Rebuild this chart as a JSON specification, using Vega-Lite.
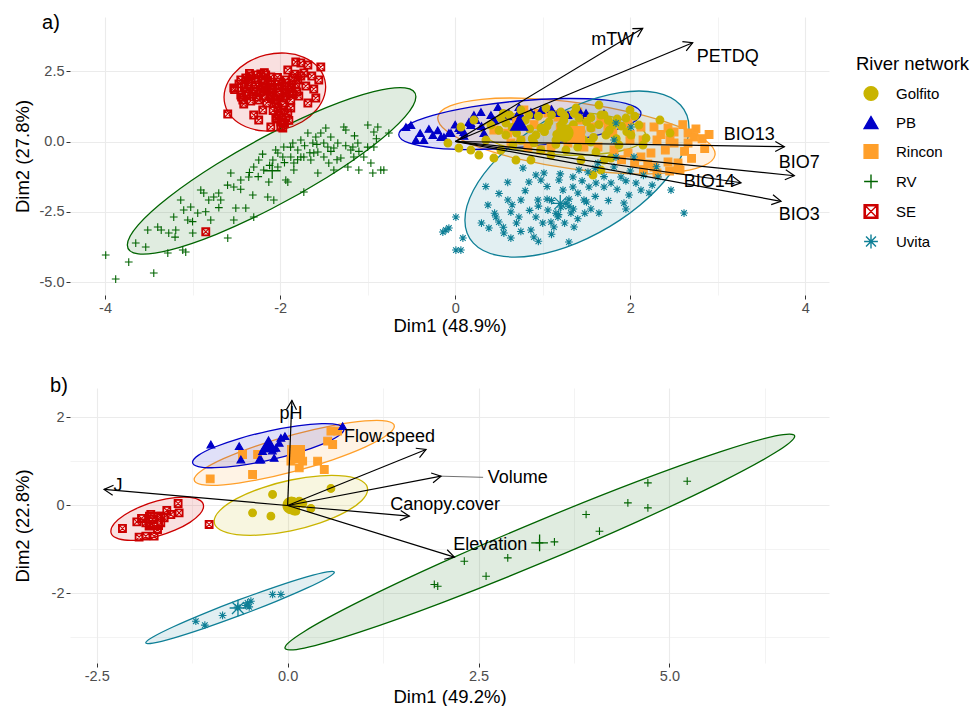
{
  "$schema": "https://vega.github.io/schema/vega-lite/v6.json",
  "background": "white",
  "padding": {"left": 13, "top": 13, "right": 5, "bottom": 5},
  "spacing": 41,
  "config": {
    "locale": {"number": {"decimal": ".", "thousands": ",", "grouping": [3], "currency": ["$", ""], "minus": "-"}},
    "view": {"stroke": null},
    "font": "Liberation Sans",
    "axis": {"domain": false, "grid": true, "gridColor": "#EBEBEB", "tickColor": "#333333", "tickSize": 4, "labelFont": "Liberation Sans", "labelFontSize": 14.5, "labelColor": "#4D4D4D", "labelPadding": 2, "titleFont": "Liberation Sans", "titleFontSize": 18.5, "titleFontWeight": "normal", "titleColor": "#000000"},
    "legend": {"titleFont": "Liberation Sans", "titleFontSize": 18.5, "titleFontWeight": "normal", "titleColor": "#000000", "labelFont": "Liberation Sans", "labelFontSize": 15, "labelColor": "#000000", "symbolSize": 190, "symbolStrokeWidth": 1.4, "symbolOpacity": 1, "rowPadding": 10, "titlePadding": 12, "symbolOffset": 7, "labelOffset": 17}
  },
  "datasets": {
    "ell_a": [
      {"g":"SE","k":0,"x":-1.489,"y":2.187},{"g":"SE","k":1,"x":-1.493,"y":1.649},{"g":"SE","k":2,"x":-1.584,"y":1.129},{"g":"SE","k":3,"x":-1.747,"y":0.704},{"g":"SE","k":4,"x":-1.958,"y":0.440},{"g":"SE","k":5,"x":-2.185,"y":0.376},{"g":"SE","k":6,"x":-2.392,"y":0.525},{"g":"SE","k":7,"x":-2.549,"y":0.859},{"g":"SE","k":8,"x":-2.631,"y":1.333},{"g":"SE","k":9,"x":-2.627,"y":1.871},{"g":"SE","k":10,"x":-2.536,"y":2.391},{"g":"SE","k":11,"x":-2.373,"y":2.816},{"g":"SE","k":12,"x":-2.162,"y":3.080},{"g":"SE","k":13,"x":-1.935,"y":3.144},{"g":"SE","k":14,"x":-1.728,"y":2.995},{"g":"SE","k":15,"x":-1.571,"y":2.661},
      {"g":"RV","k":0,"x":-0.449,"y":1.594},{"g":"RV","k":1,"x":-0.574,"y":1.911},{"g":"RV","k":2,"x":-0.932,"y":1.775},{"g":"RV","k":3,"x":-1.466,"y":1.214},{"g":"RV","k":4,"x":-2.097,"y":0.307},{"g":"RV","k":5,"x":-2.728,"y":-0.806},{"g":"RV","k":6,"x":-3.262,"y":-1.953},{"g":"RV","k":7,"x":-3.620,"y":-2.963},{"g":"RV","k":8,"x":-3.745,"y":-3.680},{"g":"RV","k":9,"x":-3.620,"y":-3.997},{"g":"RV","k":10,"x":-3.262,"y":-3.861},{"g":"RV","k":11,"x":-2.728,"y":-3.300},{"g":"RV","k":12,"x":-2.097,"y":-2.393},{"g":"RV","k":13,"x":-1.466,"y":-1.280},{"g":"RV","k":14,"x":-0.932,"y":-0.133},{"g":"RV","k":15,"x":-0.574,"y":0.877},
      {"g":"Rincon","k":0,"x":2.968,"y":-0.480},{"g":"Rincon","k":1,"x":2.828,"y":-0.877},{"g":"Rincon","k":2,"x":2.468,"y":-1.110},{"g":"Rincon","k":3,"x":1.944,"y":-1.145},{"g":"Rincon","k":4,"x":1.334,"y":-0.975},{"g":"Rincon","k":5,"x":0.732,"y":-0.627},{"g":"Rincon","k":6,"x":0.230,"y":-0.154},{"g":"Rincon","k":7,"x":-0.098,"y":0.373},{"g":"Rincon","k":8,"x":-0.198,"y":0.872},{"g":"Rincon","k":9,"x":-0.058,"y":1.269},{"g":"Rincon","k":10,"x":0.302,"y":1.502},{"g":"Rincon","k":11,"x":0.826,"y":1.537},{"g":"Rincon","k":12,"x":1.436,"y":1.367},{"g":"Rincon","k":13,"x":2.038,"y":1.019},{"g":"Rincon","k":14,"x":2.540,"y":0.546},{"g":"Rincon","k":15,"x":2.868,"y":0.019},
      {"g":"PB","k":0,"x":2.122,"y":1.014},{"g":"PB","k":1,"x":2.026,"y":0.670},{"g":"PB","k":2,"x":1.734,"y":0.320},{"g":"PB","k":3,"x":1.291,"y":0.016},{"g":"PB","k":4,"x":0.763,"y":-0.196},{"g":"PB","k":5,"x":0.231,"y":-0.284},{"g":"PB","k":6,"x":-0.222,"y":-0.232},{"g":"PB","k":7,"x":-0.530,"y":-0.052},{"g":"PB","k":8,"x":-0.644,"y":0.232},{"g":"PB","k":9,"x":-0.548,"y":0.576},{"g":"PB","k":10,"x":-0.256,"y":0.926},{"g":"PB","k":11,"x":0.187,"y":1.230},{"g":"PB","k":12,"x":0.715,"y":1.442},{"g":"PB","k":13,"x":1.247,"y":1.530},{"g":"PB","k":14,"x":1.700,"y":1.478},{"g":"PB","k":15,"x":2.008,"y":1.298},
      {"g":"Golfito","k":0,"x":2.179,"y":0.195},{"g":"Golfito","k":1,"x":2.105,"y":-0.097},{"g":"Golfito","k":2,"x":1.898,"y":-0.328},{"g":"Golfito","k":3,"x":1.593,"y":-0.462},{"g":"Golfito","k":4,"x":1.233,"y":-0.481},{"g":"Golfito","k":5,"x":0.875,"y":-0.380},{"g":"Golfito","k":6,"x":0.574,"y":-0.176},{"g":"Golfito","k":7,"x":0.373,"y":0.101},{"g":"Golfito","k":8,"x":0.305,"y":0.409},{"g":"Golfito","k":9,"x":0.379,"y":0.701},{"g":"Golfito","k":10,"x":0.586,"y":0.932},{"g":"Golfito","k":11,"x":0.891,"y":1.066},{"g":"Golfito","k":12,"x":1.251,"y":1.085},{"g":"Golfito","k":13,"x":1.609,"y":0.984},{"g":"Golfito","k":14,"x":1.910,"y":0.780},{"g":"Golfito","k":15,"x":2.111,"y":0.503},
      {"g":"Uvita","k":0,"x":2.671,"y":0.484},{"g":"Uvita","k":1,"x":2.574,"y":1.300},{"g":"Uvita","k":2,"x":2.296,"y":1.739},{"g":"Uvita","k":3,"x":1.881,"y":1.741},{"g":"Uvita","k":4,"x":1.391,"y":1.299},{"g":"Uvita","k":5,"x":0.901,"y":0.483},{"g":"Uvita","k":6,"x":0.486,"y":-0.581},{"g":"Uvita","k":7,"x":0.208,"y":-1.732},{"g":"Uvita","k":8,"x":0.111,"y":-2.798},{"g":"Uvita","k":9,"x":0.208,"y":-3.614},{"g":"Uvita","k":10,"x":0.486,"y":-4.053},{"g":"Uvita","k":11,"x":0.901,"y":-4.055},{"g":"Uvita","k":12,"x":1.391,"y":-3.613},{"g":"Uvita","k":13,"x":1.881,"y":-2.797},{"g":"Uvita","k":14,"x":2.296,"y":-1.733},{"g":"Uvita","k":15,"x":2.574,"y":-0.582}
    ],
    "ell_b": [
      {"g":"Rincon","k":0,"x":1.398,"y":1.802},{"g":"Rincon","k":1,"x":1.298,"y":1.917},{"g":"Rincon","k":2,"x":1.014,"y":1.921},{"g":"Rincon","k":3,"x":0.589,"y":1.815},{"g":"Rincon","k":4,"x":0.087,"y":1.615},{"g":"Rincon","k":5,"x":-0.415,"y":1.351},{"g":"Rincon","k":6,"x":-0.840,"y":1.063},{"g":"Rincon","k":7,"x":-1.124,"y":0.795},{"g":"Rincon","k":8,"x":-1.224,"y":0.588},{"g":"Rincon","k":9,"x":-1.124,"y":0.473},{"g":"Rincon","k":10,"x":-0.840,"y":0.469},{"g":"Rincon","k":11,"x":-0.415,"y":0.575},{"g":"Rincon","k":12,"x":0.087,"y":0.775},{"g":"Rincon","k":13,"x":0.589,"y":1.039},{"g":"Rincon","k":14,"x":1.014,"y":1.327},{"g":"Rincon","k":15,"x":1.298,"y":1.595},
      {"g":"PB","k":0,"x":0.739,"y":1.734},{"g":"PB","k":1,"x":0.664,"y":1.833},{"g":"PB","k":2,"x":0.448,"y":1.859},{"g":"PB","k":3,"x":0.127,"y":1.810},{"g":"PB","k":4,"x":-0.253,"y":1.691},{"g":"PB","k":5,"x":-0.633,"y":1.522},{"g":"PB","k":6,"x":-0.954,"y":1.329},{"g":"PB","k":7,"x":-1.170,"y":1.139},{"g":"PB","k":8,"x":-1.245,"y":0.984},{"g":"PB","k":9,"x":-1.170,"y":0.885},{"g":"PB","k":10,"x":-0.954,"y":0.859},{"g":"PB","k":11,"x":-0.633,"y":0.908},{"g":"PB","k":12,"x":-0.253,"y":1.027},{"g":"PB","k":13,"x":0.127,"y":1.196},{"g":"PB","k":14,"x":0.448,"y":1.389},{"g":"PB","k":15,"x":0.664,"y":1.579},
      {"g":"Golfito","k":0,"x":1.048,"y":0.363},{"g":"Golfito","k":1,"x":0.972,"y":0.557},{"g":"Golfito","k":2,"x":0.754,"y":0.665},{"g":"Golfito","k":3,"x":0.428,"y":0.673},{"g":"Golfito","k":4,"x":0.043,"y":0.579},{"g":"Golfito","k":5,"x":-0.342,"y":0.397},{"g":"Golfito","k":6,"x":-0.668,"y":0.155},{"g":"Golfito","k":7,"x":-0.886,"y":-0.111},{"g":"Golfito","k":8,"x":-0.962,"y":-0.359},{"g":"Golfito","k":9,"x":-0.886,"y":-0.553},{"g":"Golfito","k":10,"x":-0.668,"y":-0.661},{"g":"Golfito","k":11,"x":-0.342,"y":-0.669},{"g":"Golfito","k":12,"x":0.043,"y":-0.575},{"g":"Golfito","k":13,"x":0.428,"y":-0.393},{"g":"Golfito","k":14,"x":0.754,"y":-0.151},{"g":"Golfito","k":15,"x":0.972,"y":0.115},
      {"g":"SE","k":0,"x":-1.101,"y":-0.016},{"g":"SE","k":1,"x":-1.147,"y":0.116},{"g":"SE","k":2,"x":-1.279,"y":0.185},{"g":"SE","k":3,"x":-1.476,"y":0.180},{"g":"SE","k":4,"x":-1.708,"y":0.102},{"g":"SE","k":5,"x":-1.940,"y":-0.038},{"g":"SE","k":6,"x":-2.137,"y":-0.217},{"g":"SE","k":7,"x":-2.269,"y":-0.408},{"g":"SE","k":8,"x":-2.315,"y":-0.584},{"g":"SE","k":9,"x":-2.269,"y":-0.716},{"g":"SE","k":10,"x":-2.137,"y":-0.785},{"g":"SE","k":11,"x":-1.940,"y":-0.780},{"g":"SE","k":12,"x":-1.708,"y":-0.702},{"g":"SE","k":13,"x":-1.476,"y":-0.562},{"g":"SE","k":14,"x":-1.279,"y":-0.383},{"g":"SE","k":15,"x":-1.147,"y":-0.192},
      {"g":"Uvita","k":0,"x":0.612,"y":-1.516},{"g":"Uvita","k":1,"x":0.518,"y":-1.507},{"g":"Uvita","k":2,"x":0.250,"y":-1.622},{"g":"Uvita","k":3,"x":-0.150,"y":-1.843},{"g":"Uvita","k":4,"x":-0.623,"y":-2.136},{"g":"Uvita","k":5,"x":-1.096,"y":-2.457},{"g":"Uvita","k":6,"x":-1.496,"y":-2.756},{"g":"Uvita","k":7,"x":-1.764,"y":-2.989},{"g":"Uvita","k":8,"x":-1.858,"y":-3.120},{"g":"Uvita","k":9,"x":-1.764,"y":-3.129},{"g":"Uvita","k":10,"x":-1.496,"y":-3.014},{"g":"Uvita","k":11,"x":-1.096,"y":-2.793},{"g":"Uvita","k":12,"x":-0.623,"y":-2.500},{"g":"Uvita","k":13,"x":-0.150,"y":-2.179},{"g":"Uvita","k":14,"x":0.250,"y":-1.880},{"g":"Uvita","k":15,"x":0.518,"y":-1.647},
      {"g":"RV","k":0,"x":6.641,"y":1.575},{"g":"RV","k":1,"x":6.387,"y":1.581},{"g":"RV","k":2,"x":5.663,"y":1.219},{"g":"RV","k":3,"x":4.581,"y":0.547},{"g":"RV","k":4,"x":3.303,"y":-0.337},{"g":"RV","k":5,"x":2.025,"y":-1.295},{"g":"RV","k":6,"x":0.943,"y":-2.181},{"g":"RV","k":7,"x":0.219,"y":-2.863},{"g":"RV","k":8,"x":-0.035,"y":-3.235},{"g":"RV","k":9,"x":0.219,"y":-3.241},{"g":"RV","k":10,"x":0.943,"y":-2.879},{"g":"RV","k":11,"x":2.025,"y":-2.207},{"g":"RV","k":12,"x":3.303,"y":-1.323},{"g":"RV","k":13,"x":4.581,"y":-0.365},{"g":"RV","k":14,"x":5.663,"y":0.521},{"g":"RV","k":15,"x":6.387,"y":1.203}
    ],
    "pts_a": [
      {"g":"SE","x":-2.598,"y":0.979},{"g":"SE","x":-2.529,"y":1.904},{"g":"SE","x":-2.415,"y":1.335},{"g":"SE","x":-2.301,"y":0.943},{"g":"SE","x":-2.244,"y":0.765},{"g":"SE","x":-2.106,"y":0.516},{"g":"SE","x":-1.992,"y":0.516},{"g":"SE","x":-1.821,"y":2.829},{"g":"SE","x":-1.763,"y":2.794},{"g":"SE","x":-1.683,"y":2.722},{"g":"SE","x":-1.535,"y":2.651},{"g":"SE","x":-1.615,"y":1.868},{"g":"SE","x":-1.592,"y":1.548},{"g":"SE","x":-1.683,"y":1.370},{"g":"SE","x":-1.729,"y":2.438},{"g":"SE","x":-1.912,"y":2.544},{"g":"SE","x":-1.969,"y":0.480},{"g":"SE","x":-2.049,"y":0.836},{"g":"SE","x":-2.198,"y":1.121},{"g":"SE","x":-2.449,"y":1.655},{"g":"SE","x":-1.558,"y":2.189},{"g":"SE","x":-1.638,"y":2.331},{"g":"SE","x":-1.706,"y":1.975},{"g":"SE","x":-1.798,"y":2.189},
      {"g":"SE","x":-2.449,"y":2.189},{"g":"SE","x":-2.392,"y":2.260},{"g":"SE","x":-2.335,"y":2.331},{"g":"SE","x":-2.278,"y":2.367},{"g":"SE","x":-2.221,"y":2.402},{"g":"SE","x":-2.164,"y":2.367},{"g":"SE","x":-2.106,"y":2.295},{"g":"SE","x":-2.358,"y":2.046},{"g":"SE","x":-2.278,"y":2.011},{"g":"SE","x":-2.198,"y":2.082},{"g":"SE","x":-2.106,"y":2.011},{"g":"SE","x":-2.015,"y":2.117},{"g":"SE","x":-1.935,"y":2.189},{"g":"SE","x":-1.855,"y":2.260},{"g":"SE","x":-2.392,"y":1.762},{"g":"SE","x":-2.312,"y":1.690},{"g":"SE","x":-2.221,"y":1.762},{"g":"SE","x":-2.118,"y":1.655},{"g":"SE","x":-2.026,"y":1.762},{"g":"SE","x":-1.946,"y":1.833},{"g":"SE","x":-1.878,"y":1.904},{"g":"SE","x":-1.809,"y":1.762},{"g":"SE","x":-2.426,"y":1.477},{"g":"SE","x":-2.335,"y":1.441},{"g":"SE","x":-2.244,"y":1.477},{"g":"SE","x":-2.152,"y":1.370},{"g":"SE","x":-2.060,"y":1.477},{"g":"SE","x":-1.969,"y":1.548},{"g":"SE","x":-1.878,"y":1.477},{"g":"SE","x":-1.786,"y":1.619},{"g":"SE","x":-2.026,"y":1.192},{"g":"SE","x":-1.958,"y":1.121},{"g":"SE","x":-1.878,"y":1.192},{"g":"SE","x":-2.015,"y":0.907},{"g":"SE","x":-1.935,"y":0.836},{"g":"SE","x":-1.992,"y":0.694},{"g":"SE","x":-1.912,"y":1.014},{"g":"SE","x":-2.083,"y":1.833},{"g":"SE","x":-2.175,"y":1.904},{"g":"SE","x":-1.763,"y":2.331},{"g":"SE","x":-2.849,"y":-3.210},
      {"g":"SE","x":-2.47,"y":2.05},{"g":"SE","x":-2.41,"y":1.95},{"g":"SE","x":-2.36,"y":2.12},{"g":"SE","x":-2.30,"y":1.86},{"g":"SE","x":-2.25,"y":2.20},{"g":"SE","x":-2.20,"y":1.95},{"g":"SE","x":-2.14,"y":2.15},{"g":"SE","x":-2.09,"y":1.88},{"g":"SE","x":-2.03,"y":2.28},{"g":"SE","x":-1.98,"y":1.98},{"g":"SE","x":-1.92,"y":2.08},{"g":"SE","x":-1.87,"y":1.93},{"g":"SE","x":-1.82,"y":2.05},{"g":"SE","x":-2.44,"y":1.58},{"g":"SE","x":-2.38,"y":1.63},{"g":"SE","x":-2.27,"y":1.58},{"g":"SE","x":-2.19,"y":1.62},{"g":"SE","x":-2.10,"y":1.52},{"g":"SE","x":-2.00,"y":1.66},{"g":"SE","x":-1.93,"y":1.62},{"g":"SE","x":-1.85,"y":1.69},{"g":"SE","x":-2.05,"y":1.35},{"g":"SE","x":-1.97,"y":1.30},{"g":"SE","x":-2.08,"y":1.10},{"g":"SE","x":-1.99,"y":1.02},{"g":"SE","x":-2.04,"y":0.80},{"g":"SE","x":-1.95,"y":0.65},{"g":"SE","x":-1.90,"y":0.75},{"g":"SE","x":-2.35,"y":2.42},{"g":"SE","x":-2.18,"y":2.45},{"g":"SE","x":-2.28,"y":1.78},{"g":"SE","x":-2.15,"y":1.80},{"g":"SE","x":-1.90,"y":1.75},{"g":"SE","x":-2.52,"y":1.85},{"g":"SE","x":-1.83,"y":2.40},
      {"g":"RV","x":-3.992,"y":-4.039},{"g":"RV","x":-3.878,"y":-4.893},{"g":"RV","x":-3.729,"y":-4.288},{"g":"RV","x":-3.649,"y":-3.612},{"g":"RV","x":-3.535,"y":-3.754},{"g":"RV","x":-3.443,"y":-4.680},{"g":"RV","x":-3.512,"y":-3.149},{"g":"RV","x":-3.398,"y":-3.043},{"g":"RV","x":-3.272,"y":-3.256},{"g":"RV","x":-3.283,"y":-3.968},{"g":"RV","x":-3.192,"y":-3.149},{"g":"RV","x":-3.135,"y":-2.082},{"g":"RV","x":-3.101,"y":-2.438},{"g":"RV","x":-3.055,"y":-2.794},{"g":"RV","x":-2.998,"y":-3.256},{"g":"RV","x":-3.112,"y":-3.861},{"g":"RV","x":-3.078,"y":-3.932},{"g":"RV","x":-2.941,"y":-2.544},{"g":"RV","x":-2.906,"y":-1.726},{"g":"RV","x":-2.872,"y":-1.833},{"g":"RV","x":-2.792,"y":-2.794},{"g":"RV","x":-2.758,"y":-1.975},{"g":"RV","x":-2.701,"y":-1.833},{"g":"RV","x":-2.598,"y":-3.434},{"g":"RV","x":-2.563,"y":-1.121},{"g":"RV","x":-2.529,"y":-1.619},{"g":"RV","x":-2.529,"y":-2.794},{"g":"RV","x":-2.506,"y":-2.367},{"g":"RV","x":-2.392,"y":-2.367},{"g":"RV","x":-2.358,"y":-1.263},{"g":"RV","x":-2.312,"y":-1.904},{"g":"RV","x":-2.301,"y":-2.687},{"g":"RV","x":-2.244,"y":-0.658},{"g":"RV","x":-2.187,"y":-1.014},{"g":"RV","x":-2.141,"y":-1.975},{"g":"RV","x":-2.129,"y":-1.441},{"g":"RV","x":-2.072,"y":-2.082},{"g":"RV","x":-2.083,"y":-0.658},{"g":"RV","x":-2.026,"y":-0.409},{"g":"RV","x":-1.969,"y":-0.552},{"g":"RV","x":-1.958,"y":-0.196},{"g":"RV","x":-1.912,"y":-1.441},{"g":"RV","x":-1.855,"y":-0.053},{"g":"RV","x":-1.843,"y":-0.765},{"g":"RV","x":-1.798,"y":-0.302},{"g":"RV","x":-1.763,"y":0.053},{"g":"RV","x":-1.729,"y":-0.552},{"g":"RV","x":-1.683,"y":0.302},{"g":"RV","x":-1.649,"y":-0.658},{"g":"RV","x":-1.626,"y":-0.053},{"g":"RV","x":-1.592,"y":0.160},{"g":"RV","x":-1.569,"y":-0.374},{"g":"RV","x":-1.535,"y":0.302},{"g":"RV","x":-1.501,"y":-0.053},{"g":"RV","x":-1.478,"y":0.480},{"g":"RV","x":-1.444,"y":-0.765},{"g":"RV","x":-1.421,"y":0.160},{"g":"RV","x":-1.386,"y":-0.231},{"g":"RV","x":-1.341,"y":-0.053},{"g":"RV","x":-1.306,"y":-0.587},{"g":"RV","x":-1.272,"y":0.516},{"g":"RV","x":-1.226,"y":-0.907},{"g":"RV","x":-1.169,"y":-0.196},{"g":"RV","x":-1.158,"y":-0.552},{"g":"RV","x":-1.112,"y":-0.053},{"g":"RV","x":-1.101,"y":-1.014},{"g":"RV","x":-1.044,"y":-0.552},{"g":"RV","x":-0.998,"y":0.587},{"g":"RV","x":-0.963,"y":-0.765},{"g":"RV","x":-0.941,"y":-1.121},{"g":"RV","x":-0.929,"y":-0.196},{"g":"RV","x":-0.884,"y":0.516},{"g":"RV","x":-0.850,"y":-1.014},{"g":"RV","x":-0.815,"y":-1.014},{"g":"RV","x":-0.758,"y":0.302},{"g":"RV","x":-1.729,"y":-1.797},{"g":"RV","x":-1.935,"y":-1.370},{"g":"RV","x":-1.843,"y":-1.014},{"g":"RV","x":-1.569,"y":-1.121},{"g":"RV","x":-1.386,"y":-1.014},{"g":"RV","x":-1.192,"y":-0.302},{"g":"RV","x":-1.763,"y":-0.552},{"g":"RV","x":-2.026,"y":-0.907},{"g":"RV","x":-2.301,"y":-0.907},{"g":"RV","x":-2.449,"y":-1.370},{"g":"RV","x":-2.678,"y":-2.082},{"g":"RV","x":-2.815,"y":-2.082},{"g":"RV","x":-3.021,"y":-2.331},{"g":"RV","x":-3.215,"y":-2.687},{"g":"RV","x":-3.358,"y":-3.149},{"g":"RV","x":-1.249,"y":0.409},{"g":"RV","x":-0.929,"y":0.338},{"g":"RV","x":-1.878,"y":-0.552},{"g":"RV","x":-1.615,"y":-0.409},{"g":"RV","x":-1.455,"y":-0.196},
      {"g":"RV","x":-2.05,"y":-0.30},{"g":"RV","x":-1.95,"y":-0.75},{"g":"RV","x":-1.88,"y":-0.20},{"g":"RV","x":-1.80,"y":-0.65},{"g":"RV","x":-1.72,"y":-0.15},{"g":"RV","x":-1.66,"y":-0.40},{"g":"RV","x":-1.58,"y":-0.10},{"g":"RV","x":-1.50,"y":-0.55},{"g":"RV","x":-1.42,"y":-0.35},{"g":"RV","x":-1.35,"y":-0.65},{"g":"RV","x":-2.20,"y":-0.45},{"g":"RV","x":-2.12,"y":-0.85},{"g":"RV","x":-2.35,"y":-1.10},{"g":"RV","x":-2.25,"y":-1.25},{"g":"RV","x":-2.60,"y":-1.55},{"g":"RV","x":-2.45,"y":-1.70},{"g":"RV","x":-2.70,"y":-2.35},{"g":"RV","x":-2.85,"y":-2.50},{"g":"RV","x":-3.00,"y":-2.85},{"g":"RV","x":-3.20,"y":-3.40},{"g":"RV","x":-1.25,"y":-0.15},{"g":"RV","x":-1.10,"y":-0.35},{"g":"RV","x":-1.00,"y":-0.20},{"g":"RV","x":-0.90,"y":0.10},{"g":"RV","x":-1.15,"y":0.20},
      {"g":"Rincon","x":0.442,"y":0.409},{"g":"Rincon","x":0.785,"y":1.121},{"g":"Rincon","x":1.059,"y":1.121},{"g":"Rincon","x":1.174,"y":0.872},{"g":"Rincon","x":1.437,"y":0.765},{"g":"Rincon","x":1.665,"y":0.765},{"g":"Rincon","x":1.974,"y":0.658},{"g":"Rincon","x":2.122,"y":0.516},{"g":"Rincon","x":2.271,"y":0.516},{"g":"Rincon","x":2.431,"y":0.480},{"g":"Rincon","x":2.500,"y":0.338},{"g":"Rincon","x":2.660,"y":0.302},{"g":"Rincon","x":2.728,"y":0.160},{"g":"Rincon","x":2.236,"y":-0.409},{"g":"Rincon","x":2.431,"y":-0.730},{"g":"Rincon","x":2.545,"y":-0.765},{"g":"Rincon","x":2.271,"y":-0.907},{"g":"Rincon","x":2.122,"y":-0.552},{"g":"Rincon","x":1.974,"y":-0.409},{"g":"Rincon","x":1.814,"y":-0.302},{"g":"Rincon","x":1.631,"y":-0.196},{"g":"Rincon","x":1.471,"y":-0.196},{"g":"Rincon","x":1.288,"y":-0.053},{"g":"Rincon","x":1.094,"y":-0.196},{"g":"Rincon","x":0.979,"y":-0.302},{"g":"Rincon","x":0.831,"y":-0.196},{"g":"Rincon","x":0.637,"y":-0.053},{"g":"Rincon","x":1.745,"y":0.516},{"g":"Rincon","x":1.551,"y":0.516},{"g":"Rincon","x":1.357,"y":0.302},{"g":"Rincon","x":1.997,"y":0.053},{"g":"Rincon","x":2.146,"y":0.053},{"g":"Rincon","x":2.305,"y":0.053},{"g":"Rincon","x":2.454,"y":0.053},{"g":"Rincon","x":2.500,"y":-0.053},{"g":"Rincon","x":2.660,"y":-0.053},{"g":"Rincon","x":2.305,"y":-1.121},{"g":"Rincon","x":2.568,"y":-1.014},{"g":"Rincon","x":1.059,"y":1.014},{"g":"Rincon","x":0.700,"y":0.760},{"g":"Rincon","x":0.900,"y":0.600},{"g":"Rincon","x":1.200,"y":0.500},{"g":"Rincon","x":1.800,"y":0.300},{"g":"Rincon","x":2.000,"y":0.250},{"g":"Rincon","x":2.900,"y":0.250},
      {"g":"Rincon","x":2.75,"y":0.45},{"g":"Rincon","x":2.82,"y":0.10},{"g":"Rincon","x":2.62,"y":-0.35},{"g":"Rincon","x":2.40,"y":-0.30},{"g":"Rincon","x":2.20,"y":-0.80},{"g":"Rincon","x":2.05,"y":-0.75},{"g":"Rincon","x":1.90,"y":-0.65},{"g":"Rincon","x":2.70,"y":-0.60},{"g":"Rincon","x":2.55,"y":-0.95},{"g":"Rincon","x":2.35,"y":0.25},{"g":"Rincon","x":2.85,"y":-0.25},{"g":"Rincon","x":1.20,"y":0.95},{"g":"Rincon","x":1.40,"y":1.05},{"g":"Rincon","x":0.95,"y":1.00},{"g":"Rincon","x":2.45,"y":-1.05},{"g":"Rincon","x":2.15,"y":-1.00},{"g":"Rincon","x":2.60,"y":0.60},{"g":"Rincon","x":0.60,"y":0.30},{"g":"Rincon","x":0.75,"y":0.05},
      {"g":"PB","x":-0.563,"y":0.516},{"g":"PB","x":-0.506,"y":0.587},{"g":"PB","x":-0.358,"y":0.053},{"g":"PB","x":-0.255,"y":0.231},{"g":"PB","x":-0.163,"y":0.160},{"g":"PB","x":-0.072,"y":0.302},{"g":"PB","x":0.042,"y":0.480},{"g":"PB","x":0.099,"y":0.338},{"g":"PB","x":0.179,"y":0.587},{"g":"PB","x":0.237,"y":0.765},{"g":"PB","x":-0.449,"y":0.053},{"g":"PB","x":-0.129,"y":0.160},{"g":"PB","x":-0.049,"y":0.302},{"g":"PB","x":0.065,"y":0.409},{"g":"PB","x":0.157,"y":0.694},{"g":"PB","x":0.214,"y":0.943},{"g":"PB","x":0.488,"y":1.228},{"g":"PB","x":0.728,"y":1.228},{"g":"PB","x":0.751,"y":0.943},{"g":"PB","x":0.979,"y":1.121},{"g":"PB","x":1.174,"y":1.014},{"g":"PB","x":1.288,"y":0.943},{"g":"PB","x":1.414,"y":1.121},{"g":"PB","x":1.494,"y":1.014},{"g":"PB","x":0.294,"y":1.050},{"g":"PB","x":0.408,"y":0.943},{"g":"PB","x":0.614,"y":1.014},{"g":"PB","x":0.865,"y":1.050},{"g":"PB","x":0.179,"y":0.658},{"g":"PB","x":0.328,"y":0.302},{"g":"PB","x":0.728,"y":1.050},{"g":"PB","x":1.437,"y":0.872},
      {"g":"PB","x":-0.40,"y":0.30},{"g":"PB","x":-0.30,"y":0.45},{"g":"PB","x":-0.20,"y":0.40},{"g":"PB","x":0.00,"y":0.60},{"g":"PB","x":0.10,"y":0.20},{"g":"PB","x":0.30,"y":0.55},{"g":"PB","x":0.45,"y":0.75},{"g":"PB","x":0.60,"y":0.90},{"g":"PB","x":0.90,"y":0.95},{"g":"PB","x":1.10,"y":1.15},{"g":"PB","x":1.70,"y":1.00},
      {"g":"Golfito","x":0.408,"y":0.587},{"g":"Golfito","x":0.522,"y":0.836},{"g":"Golfito","x":0.579,"y":0.231},{"g":"Golfito","x":0.659,"y":-0.125},{"g":"Golfito","x":0.751,"y":0.587},{"g":"Golfito","x":0.842,"y":0.943},{"g":"Golfito","x":0.922,"y":0.231},{"g":"Golfito","x":0.979,"y":-0.302},{"g":"Golfito","x":1.071,"y":0.694},{"g":"Golfito","x":1.151,"y":0.053},{"g":"Golfito","x":1.208,"y":1.050},{"g":"Golfito","x":1.265,"y":-0.302},{"g":"Golfito","x":1.322,"y":0.480},{"g":"Golfito","x":1.414,"y":0.836},{"g":"Golfito","x":1.471,"y":0.053},{"g":"Golfito","x":1.551,"y":0.480},{"g":"Golfito","x":1.608,"y":-0.374},{"g":"Golfito","x":1.665,"y":0.943},{"g":"Golfito","x":1.722,"y":0.231},{"g":"Golfito","x":1.802,"y":0.587},{"g":"Golfito","x":1.871,"y":-0.125},{"g":"Golfito","x":1.951,"y":0.836},{"g":"Golfito","x":2.008,"y":0.231},{"g":"Golfito","x":2.099,"y":0.587},{"g":"Golfito","x":2.145,"y":-0.125},{"g":"Golfito","x":0.522,"y":-0.302},{"g":"Golfito","x":0.694,"y":-0.658},{"g":"Golfito","x":0.865,"y":-0.658},{"g":"Golfito","x":1.094,"y":-0.480},{"g":"Golfito","x":1.437,"y":-0.658},{"g":"Golfito","x":1.780,"y":-0.587},{"g":"Golfito","x":0.065,"y":0.516},{"g":"Golfito","x":0.214,"y":0.765},{"g":"Golfito","x":-0.083,"y":-0.053},{"g":"Golfito","x":0.042,"y":-0.231},{"g":"Golfito","x":0.179,"y":-0.302},{"g":"Golfito","x":0.271,"y":-0.480},{"g":"Golfito","x":0.442,"y":-0.587},{"g":"Golfito","x":0.751,"y":1.121},{"g":"Golfito","x":1.037,"y":1.192},{"g":"Golfito","x":1.380,"y":1.192},{"g":"Golfito","x":1.642,"y":1.299},{"g":"Golfito","x":1.997,"y":1.121},{"g":"Golfito","x":2.339,"y":0.765},{"g":"Golfito","x":2.454,"y":0.302},{"g":"Golfito","x":0.351,"y":0.053},{"g":"Golfito","x":0.579,"y":0.658},{"g":"Golfito","x":1.208,"y":0.587},{"g":"Golfito","x":1.551,"y":-0.018},{"g":"Golfito","x":0.751,"y":0.053},{"g":"Golfito","x":0.979,"y":0.480},{"g":"Golfito","x":1.700,"y":-0.658},{"g":"Golfito","x":1.665,"y":-1.014},{"g":"Golfito","x":2.180,"y":0.125},{"g":"Golfito","x":1.574,"y":-1.192},
      {"g":"Golfito","x":0.50,"y":0.40},{"g":"Golfito","x":0.62,"y":0.95},{"g":"Golfito","x":0.70,"y":0.30},{"g":"Golfito","x":0.80,"y":0.75},{"g":"Golfito","x":0.88,"y":0.10},{"g":"Golfito","x":0.95,"y":0.90},{"g":"Golfito","x":1.02,"y":0.35},{"g":"Golfito","x":1.10,"y":0.95},{"g":"Golfito","x":1.16,"y":0.25},{"g":"Golfito","x":1.24,"y":0.75},{"g":"Golfito","x":1.30,"y":0.05},{"g":"Golfito","x":1.36,"y":1.00},{"g":"Golfito","x":1.44,"y":0.35},{"g":"Golfito","x":1.50,"y":0.70},{"g":"Golfito","x":1.58,"y":0.15},{"g":"Golfito","x":1.64,"y":0.60},{"g":"Golfito","x":1.70,"y":0.95},{"g":"Golfito","x":1.76,"y":0.40},{"g":"Golfito","x":1.84,"y":0.10},{"g":"Golfito","x":1.90,"y":0.55},{"g":"Golfito","x":1.96,"y":0.35},{"g":"Golfito","x":1.05,"y":0.55},{"g":"Golfito","x":0.85,"y":0.45},{"g":"Golfito","x":1.35,"y":0.60},{"g":"Golfito","x":1.55,"y":0.85},{"g":"Golfito","x":0.65,"y":0.50},{"g":"Golfito","x":1.15,"y":-0.10},{"g":"Golfito","x":1.40,"y":-0.20},{"g":"Golfito","x":0.90,"y":-0.05},{"g":"Golfito","x":1.75,"y":0.75},{"g":"Golfito","x":2.05,"y":0.90},{"g":"Golfito","x":0.55,"y":1.00},{"g":"Golfito","x":1.25,"y":0.90},{"g":"Golfito","x":1.85,"y":0.80},
      {"g":"Uvita","x":0.008,"y":-2.687},{"g":"Uvita","x":-0.106,"y":-3.149},{"g":"Uvita","x":0.088,"y":-3.434},{"g":"Uvita","x":0.008,"y":-3.861},{"g":"Uvita","x":0.374,"y":-2.260},{"g":"Uvita","x":0.465,"y":-2.687},{"g":"Uvita","x":0.385,"y":-3.078},{"g":"Uvita","x":0.499,"y":-2.865},{"g":"Uvita","x":0.556,"y":-3.256},{"g":"Uvita","x":0.636,"y":-3.434},{"g":"Uvita","x":0.602,"y":-2.082},{"g":"Uvita","x":0.636,"y":-2.509},{"g":"Uvita","x":0.728,"y":-2.687},{"g":"Uvita","x":0.751,"y":-2.082},{"g":"Uvita","x":0.774,"y":-0.943},{"g":"Uvita","x":0.842,"y":-1.441},{"g":"Uvita","x":0.922,"y":-1.192},{"g":"Uvita","x":0.979,"y":-1.370},{"g":"Uvita","x":1.014,"y":-1.121},{"g":"Uvita","x":0.945,"y":-2.082},{"g":"Uvita","x":0.922,"y":-2.687},{"g":"Uvita","x":0.865,"y":-3.149},{"g":"Uvita","x":0.899,"y":-3.399},{"g":"Uvita","x":1.059,"y":-2.438},{"g":"Uvita","x":1.094,"y":-2.865},{"g":"Uvita","x":1.128,"y":-3.043},{"g":"Uvita","x":1.174,"y":-2.687},{"g":"Uvita","x":1.208,"y":-2.331},{"g":"Uvita","x":1.265,"y":-2.189},{"g":"Uvita","x":1.322,"y":-2.544},{"g":"Uvita","x":1.357,"y":-3.043},{"g":"Uvita","x":1.402,"y":-1.833},{"g":"Uvita","x":1.471,"y":-2.082},{"g":"Uvita","x":1.345,"y":-1.263},{"g":"Uvita","x":1.414,"y":-1.014},{"g":"Uvita","x":1.608,"y":-1.477},{"g":"Uvita","x":1.642,"y":-2.544},{"g":"Uvita","x":1.700,"y":-1.619},{"g":"Uvita","x":1.780,"y":-1.477},{"g":"Uvita","x":1.814,"y":-0.907},{"g":"Uvita","x":1.894,"y":-1.263},{"g":"Uvita","x":1.928,"y":-2.189},{"g":"Uvita","x":1.985,"y":-1.904},{"g":"Uvita","x":2.065,"y":-1.477},{"g":"Uvita","x":2.042,"y":-0.552},{"g":"Uvita","x":2.122,"y":-1.726},{"g":"Uvita","x":2.214,"y":-1.833},{"g":"Uvita","x":2.317,"y":-1.263},{"g":"Uvita","x":2.465,"y":-1.726},{"g":"Uvita","x":2.614,"y":-2.544},{"g":"Uvita","x":1.299,"y":-3.577},{"g":"Uvita","x":1.185,"y":-1.370},{"g":"Uvita","x":1.517,"y":-1.085},{"g":"Uvita","x":1.631,"y":-0.765},{"g":"Uvita","x":1.837,"y":-0.552},{"g":"Uvita","x":1.345,"y":-1.619},{"g":"Uvita","x":1.528,"y":-1.619},{"g":"Uvita","x":1.231,"y":-1.726},{"g":"Uvita","x":-0.141,"y":-3.221},{"g":"Uvita","x":-0.072,"y":-3.078},{"g":"Uvita","x":0.065,"y":-3.861},{"g":"Uvita","x":1.837,"y":0.658},{"g":"Uvita","x":2.008,"y":0.516},{"g":"Uvita","x":1.814,"y":0.053},{"g":"Uvita","x":1.300,"y":-2.300},{"g":"Uvita","x":1.000,"y":-2.900},{"g":"Uvita","x":1.100,"y":-2.100},{"g":"Uvita","x":0.700,"y":-2.900},{"g":"Uvita","x":1.550,"y":-2.400},
      {"g":"Uvita","x":0.35,"y":-1.60},{"g":"Uvita","x":0.50,"y":-1.85},{"g":"Uvita","x":0.60,"y":-1.45},{"g":"Uvita","x":0.80,"y":-1.75},{"g":"Uvita","x":0.95,"y":-2.30},{"g":"Uvita","x":1.05,"y":-1.60},{"g":"Uvita","x":1.15,"y":-2.55},{"g":"Uvita","x":1.25,"y":-2.90},{"g":"Uvita","x":1.40,"y":-2.75},{"g":"Uvita","x":1.50,"y":-2.15},{"g":"Uvita","x":1.60,"y":-1.95},{"g":"Uvita","x":1.75,"y":-2.10},{"g":"Uvita","x":1.85,"y":-1.70},{"g":"Uvita","x":1.95,"y":-1.40},{"g":"Uvita","x":2.15,"y":-1.20},{"g":"Uvita","x":2.25,"y":-1.55},{"g":"Uvita","x":0.45,"y":-2.55},{"g":"Uvita","x":0.55,"y":-3.05},{"g":"Uvita","x":0.75,"y":-3.20},{"g":"Uvita","x":0.95,"y":-3.55},{"g":"Uvita","x":1.10,"y":-3.30},{"g":"Uvita","x":0.85,"y":-2.45},{"g":"Uvita","x":1.30,"y":-2.05},{"g":"Uvita","x":1.45,"y":-1.40},{"g":"Uvita","x":1.70,"y":-1.25},{"g":"Uvita","x":2.00,"y":-1.05},{"g":"Uvita","x":1.60,"y":-0.95},{"g":"Uvita","x":0.30,"y":-2.90},{"g":"Uvita","x":0.65,"y":-2.25},{"g":"Uvita","x":1.20,"y":-1.15},{"g":"Uvita","x":1.95,"y":-2.40},{"g":"Uvita","x":2.30,"y":-0.90},{"g":"Uvita","x":1.35,"y":-2.40},{"g":"Uvita","x":1.18,"y":-2.60},{"g":"Uvita","x":1.48,"y":-2.55},{"g":"Uvita","x":1.05,"y":-2.05}
    ],
    "pts_b": [
      {"g":"SE","x":-2.163,"y":-0.523},{"g":"SE","x":-1.975,"y":-0.373},{"g":"SE","x":-1.913,"y":-0.295},{"g":"SE","x":-1.792,"y":-0.205},{"g":"SE","x":-1.769,"y":-0.318},{"g":"SE","x":-1.748,"y":-0.432},{"g":"SE","x":-1.704,"y":-0.545},{"g":"SE","x":-1.661,"y":-0.243},{"g":"SE","x":-1.582,"y":-0.114},{"g":"SE","x":-1.529,"y":-0.205},{"g":"SE","x":-1.434,"y":0.045},{"g":"SE","x":-1.421,"y":-0.168},{"g":"SE","x":-1.945,"y":-0.720},{"g":"SE","x":-1.857,"y":-0.698},{"g":"SE","x":-1.748,"y":-0.698},{"g":"SE","x":-1.814,"y":-0.470},{"g":"SE","x":-1.857,"y":-0.395},{"g":"SE","x":-1.661,"y":-0.395},{"g":"SE","x":-1.028,"y":-0.432},{"g":"SE","x":-1.617,"y":-0.282},
      {"g":"RV","x":1.921,"y":-1.795},{"g":"RV","x":1.966,"y":-1.834},{"g":"RV","x":2.314,"y":-1.266},{"g":"RV","x":2.599,"y":-1.607},{"g":"RV","x":2.883,"y":-1.191},{"g":"RV","x":3.298,"y":-0.850},{"g":"RV","x":3.494,"y":-0.827},{"g":"RV","x":3.909,"y":-0.205},{"g":"RV","x":4.084,"y":-0.584},{"g":"RV","x":4.456,"y":0.059},{"g":"RV","x":4.718,"y":0.514},{"g":"RV","x":4.718,"y":-0.055},{"g":"RV","x":5.233,"y":0.552},
      {"g":"Rincon","x":-0.590,"y":1.159},{"g":"Rincon","x":-0.393,"y":1.159},{"g":"Rincon","x":-0.459,"y":0.705},{"g":"Rincon","x":-1.014,"y":0.605},{"g":"Rincon","x":0.043,"y":1.007},{"g":"Rincon","x":0.131,"y":1.082},{"g":"Rincon","x":0.197,"y":1.007},{"g":"Rincon","x":0.152,"y":0.855},{"g":"Rincon","x":0.393,"y":1.007},{"g":"Rincon","x":0.480,"y":0.818},{"g":"Rincon","x":0.567,"y":1.689},{"g":"Rincon","x":0.524,"y":1.461},{"g":"Rincon","x":0.590,"y":1.386},{"g":"Rincon","x":0.655,"y":1.689},{"g":"Rincon","x":0.100,"y":1.150},{"g":"Rincon","x":0.060,"y":1.100},
      {"g":"PB","x":-1.005,"y":1.386},{"g":"PB","x":-0.634,"y":1.348},{"g":"PB","x":-0.612,"y":1.045},{"g":"PB","x":-0.372,"y":1.045},{"g":"PB","x":-0.328,"y":1.234},{"g":"PB","x":-0.241,"y":1.386},{"g":"PB","x":-0.176,"y":1.082},{"g":"PB","x":-0.153,"y":1.309},{"g":"PB","x":-0.110,"y":1.423},{"g":"PB","x":-0.088,"y":1.536},{"g":"PB","x":-0.035,"y":1.575},{"g":"PB","x":0.721,"y":1.802},{"g":"PB","x":-0.350,"y":1.045},{"g":"PB","x":-0.300,"y":1.300},{"g":"PB","x":-0.200,"y":1.250},
      {"g":"Golfito","x":-0.197,"y":0.250},{"g":"Golfito","x":-0.459,"y":-0.168},{"g":"Golfito","x":-0.219,"y":-0.243},{"g":"Golfito","x":0.567,"y":0.386},{"g":"Golfito","x":0.109,"y":-0.130},{"g":"Golfito","x":0.305,"y":-0.068},{"g":"Golfito","x":0.152,"y":0.098},{"g":"Golfito","x":0.043,"y":-0.055},{"g":"Golfito","x":0.087,"y":-0.130},{"g":"Golfito","x":0.200,"y":0.050},
      {"g":"Uvita","x":-1.202,"y":-2.630},{"g":"Uvita","x":-1.084,"y":-2.720},{"g":"Uvita","x":-0.852,"y":-2.500},{"g":"Uvita","x":-0.655,"y":-2.311},{"g":"Uvita","x":-0.547,"y":-2.273},{"g":"Uvita","x":-0.524,"y":-2.214},{"g":"Uvita","x":-0.481,"y":-2.175},{"g":"Uvita","x":-0.503,"y":-2.305},{"g":"Uvita","x":-0.197,"y":-2.023},{"g":"Uvita","x":-0.088,"y":-2.023}
    ],
    "mean_a": [
      {"g":"RV","x":-2.09,"y":-1.04},{"g":"SE","x":-2.06,"y":1.76},{"g":"Rincon","x":1.38,"y":0.23},{"g":"PB","x":0.73,"y":0.66},{"g":"Golfito","x":1.25,"y":0.30},{"g":"Uvita","x":1.2,"y":-2.2}
    ],
    "mean_b": [
      {"g":"SE","x":-1.75,"y":-0.35},{"g":"RV","x":3.3,"y":-0.85},{"g":"Rincon","x":0.11,"y":1.17},{"g":"PB","x":-0.25,"y":1.39},{"g":"Golfito","x":0.05,"y":0.0},{"g":"Uvita","x":-0.65,"y":-2.33}
    ],
    "arr_a": [
      {"v":"mTW","x":2.142,"y":4.028,"lx":1.80,"ly":3.61},
      {"v":"PETDQ","x":2.713,"y":3.516,"lx":3.113,"ly":3.018},
      {"v":"BIO13","x":3.760,"y":-0.185,"lx":3.36,"ly":0.231},
      {"v":"BIO7","x":3.874,"y":-1.217,"lx":3.931,"ly":-0.776},
      {"v":"BIO14","x":3.265,"y":-1.466,"lx":2.903,"ly":-1.431},
      {"v":"BIO3","x":3.722,"y":-2.128,"lx":3.931,"ly":-2.616}
    ],
    "arr_b": [
      {"v":"pH","x":0.056,"y":2.386,"lx":0.043,"ly":2.068},
      {"v":"Flow.speed","x":1.813,"y":1.273,"lx":1.334,"ly":1.552},
      {"v":"Volume","x":2.009,"y":0.666,"lx":3.014,"ly":0.627},
      {"v":"Canopy.cover","x":1.594,"y":-0.243,"lx":2.062,"ly":0.007},
      {"v":"Elevation","x":2.184,"y":-1.175,"lx":2.653,"ly":-0.902},
      {"v":"J","x":-2.404,"y":0.364,"lx":-2.22,"ly":0.44}
    ],
    "seg_b": [
      {"v":"Volume","x":2.009,"y":0.666,"x2":2.56,"y2":0.64}
    ]
  },
  "vconcat": [
    {
      "width": 759,
      "height": 278,
      "title": {"text": "a)", "anchor": "start", "frame": "bounds", "fontSize": 20, "fontWeight": "normal", "font": "Liberation Sans Narrow, Liberation Sans", "color": "#000000", "offset": -16, "dx": 29},
      "layer": [
        {
          "data": {"name": "ell_a"},
          "mark": {"type": "line", "interpolate": "cardinal-closed", "strokeWidth": 1.3, "fillOpacity": 0.12},
          "encoding": {
            "x": {"field": "x", "type": "quantitative", "title": "Dim1 (48.9%)", "scale": {"domain": [-4.4, 4.27], "nice": false, "zero": false},
                  "axis": {"values": [-4, -3, -2, -1, 0, 1, 2, 3, 4], "labelExpr": "datum.value % 2 === 0 ? format(datum.value, 'd') : ''", "tickOpacity": {"condition": {"test": "datum.value % 2 === 0", "value": 1}, "value": 0}, "gridWidth": {"condition": {"test": "datum.value % 2 === 0", "value": 1.1}, "value": 0.6}, "titlePadding": 2}},
            "y": {"field": "y", "type": "quantitative", "title": "Dim2 (27.8%)", "scale": {"domain": [-5.46, 4.43], "nice": false, "zero": false},
                  "axis": {"values": [-5, -3.75, -2.5, -1.25, 0, 1.25, 2.5, 3.75], "labelExpr": "abs(datum.value % 2.5) < 0.001 ? format(datum.value, '.1f') : ''", "tickOpacity": {"condition": {"test": "abs(datum.value % 2.5) < 0.001", "value": 1}, "value": 0}, "gridWidth": {"condition": {"test": "abs(datum.value % 2.5) < 0.001", "value": 1.1}, "value": 0.6}, "titlePadding": 7}},
            "order": {"field": "k", "type": "quantitative"},
            "color": {"field": "g", "type": "nominal", "title": "River network", "scale": {"domain": ["Golfito", "PB", "Rincon", "RV", "SE", "Uvita"], "range": ["#C9B400", "#0000C8", "#FF9F2A", "#006400", "#CC0000", "#0E7F96"]}, "legend": {"orient": "none", "legendX": 786, "legendY": 38}},
            "fill": {"field": "g", "type": "nominal", "title": "River network", "scale": {"domain": ["Golfito", "PB", "Rincon", "RV", "SE", "Uvita"], "range": ["#C9B400", "#0000C8", "#FF9F2A", "#006400", "#CC0000", "#0E7F96"]}, "legend": {"orient": "none", "legendX": 786, "legendY": 38}}
          }
        },
        {
          "mark": {"type": "rule", "strokeDash": [6, 4], "color": "#000000", "strokeWidth": 1.2},
          "encoding": {"x": {"datum": 0, "type": "quantitative", "title": "Dim1 (48.9%)", "scale": {"domain": [-4.4, 4.27], "nice": false, "zero": false}}}
        },
        {
          "mark": {"type": "rule", "strokeDash": [6, 4], "color": "#000000", "strokeWidth": 1.2},
          "encoding": {"y": {"datum": 0, "type": "quantitative", "title": "Dim2 (27.8%)", "scale": {"domain": [-5.46, 4.43], "nice": false, "zero": false}}}
        },
        {
          "data": {"name": "pts_a"},
          "mark": {"type": "point", "filled": false, "size": 60, "strokeWidth": 1.1, "opacity": 1, "fillOpacity": 1},
          "encoding": {
            "x": {"field": "x", "type": "quantitative", "title": "Dim1 (48.9%)", "scale": {"domain": [-4.4, 4.27], "nice": false, "zero": false}},
            "y": {"field": "y", "type": "quantitative", "title": "Dim2 (27.8%)", "scale": {"domain": [-5.46, 4.43], "nice": false, "zero": false}},
            "color": {"field": "g", "type": "nominal", "title": "River network", "scale": {"domain": ["Golfito", "PB", "Rincon", "RV", "SE", "Uvita"], "range": ["#C9B400", "#0000C8", "#FF9F2A", "#006400", "#CC0000", "#0E7F96"]}, "legend": {"orient": "none", "legendX": 786, "legendY": 38}},
            "fill": {"field": "g", "type": "nominal", "title": "River network", "scale": {"domain": ["Golfito", "PB", "Rincon", "RV", "SE", "Uvita"], "range": ["#C9B400", "#0000C8", "#FF9F2A", "#006400", "#CC0000", "#0E7F96"]}, "legend": {"orient": "none", "legendX": 786, "legendY": 38}},
            "shape": {"field": "g", "type": "nominal", "title": "River network", "scale": {"domain": ["Golfito", "PB", "Rincon", "RV", "SE", "Uvita"], "range": ["circle", "triangle-up", "square", "M-1,0L1,0M0,-1L0,1", "M-1,-1L1,-1L1,1L-1,1ZM-0.82,-0.82L-0.82,0.82L0.82,0.82L0.82,-0.82ZM-0.82,-0.82L0.82,0.82M-0.82,0.82L0.82,-0.82", "M-1,0L1,0M0,-1L0,1M-0.72,-0.72L0.72,0.72M-0.72,0.72L0.72,-0.72"]}, "legend": {"orient": "none", "legendX": 786, "legendY": 38}}
          }
        },
        {
          "data": {"name": "mean_a"},
          "mark": {"type": "point", "filled": false, "size": 280, "strokeWidth": 1.3, "opacity": 1, "fillOpacity": 1},
          "encoding": {
            "x": {"field": "x", "type": "quantitative", "title": "Dim1 (48.9%)", "scale": {"domain": [-4.4, 4.27], "nice": false, "zero": false}},
            "y": {"field": "y", "type": "quantitative", "title": "Dim2 (27.8%)", "scale": {"domain": [-5.46, 4.43], "nice": false, "zero": false}},
            "color": {"field": "g", "type": "nominal", "title": "River network", "scale": {"domain": ["Golfito", "PB", "Rincon", "RV", "SE", "Uvita"], "range": ["#C9B400", "#0000C8", "#FF9F2A", "#006400", "#CC0000", "#0E7F96"]}, "legend": {"orient": "none", "legendX": 786, "legendY": 38}},
            "fill": {"field": "g", "type": "nominal", "title": "River network", "scale": {"domain": ["Golfito", "PB", "Rincon", "RV", "SE", "Uvita"], "range": ["#C9B400", "#0000C8", "#FF9F2A", "#006400", "#CC0000", "#0E7F96"]}, "legend": {"orient": "none", "legendX": 786, "legendY": 38}},
            "shape": {"field": "g", "type": "nominal", "title": "River network", "scale": {"domain": ["Golfito", "PB", "Rincon", "RV", "SE", "Uvita"], "range": ["circle", "triangle-up", "square", "M-1,0L1,0M0,-1L0,1", "M-1,-1L1,-1L1,1L-1,1ZM-0.82,-0.82L-0.82,0.82L0.82,0.82L0.82,-0.82ZM-0.82,-0.82L0.82,0.82M-0.82,0.82L0.82,-0.82", "M-1,0L1,0M0,-1L0,1M-0.72,-0.72L0.72,0.72M-0.72,0.72L0.72,-0.72"]}, "legend": {"orient": "none", "legendX": 786, "legendY": 38}}
          }
        },
        {
          "data": {"name": "arr_a"},
          "mark": {"type": "rule", "color": "#000000", "strokeWidth": 1.2},
          "encoding": {
            "x": {"field": "x", "type": "quantitative", "title": "Dim1 (48.9%)", "scale": {"domain": [-4.4, 4.27], "nice": false, "zero": false}},
            "y": {"field": "y", "type": "quantitative", "title": "Dim2 (27.8%)", "scale": {"domain": [-5.46, 4.43], "nice": false, "zero": false}},
            "x2": {"datum": 0},
            "y2": {"datum": 0}
          }
        },
        {
          "data": {"name": "arr_a"},
          "mark": {"type": "point", "shape": "M-1,-0.55L0,0L-1,0.55", "filled": false, "stroke": "#000000", "strokeWidth": 1.2, "size": 330, "opacity": 1, "angle": {"expr": "atan2(-datum.y*28.11, datum.x*87.54)*180/PI"}},
          "encoding": {
            "x": {"field": "x", "type": "quantitative", "title": "Dim1 (48.9%)", "scale": {"domain": [-4.4, 4.27], "nice": false, "zero": false}},
            "y": {"field": "y", "type": "quantitative", "title": "Dim2 (27.8%)", "scale": {"domain": [-5.46, 4.43], "nice": false, "zero": false}}
          }
        },
        {
          "data": {"name": "arr_a"},
          "mark": {"type": "text", "fontSize": 18, "font": "Liberation Sans", "color": "#000000", "align": "center", "baseline": "middle"},
          "encoding": {
            "x": {"field": "lx", "type": "quantitative", "title": "Dim1 (48.9%)", "scale": {"domain": [-4.4, 4.27], "nice": false, "zero": false}},
            "y": {"field": "ly", "type": "quantitative", "title": "Dim2 (27.8%)", "scale": {"domain": [-5.46, 4.43], "nice": false, "zero": false}},
            "text": {"field": "v", "type": "nominal"}
          }
        }
      ]
    },
    {
      "width": 759,
      "height": 275,
      "title": {"text": "b)", "anchor": "start", "frame": "bounds", "fontSize": 20, "fontWeight": "normal", "font": "Liberation Sans Narrow, Liberation Sans", "color": "#000000", "offset": -8, "dx": 37},
      "layer": [
        {
          "data": {"name": "ell_b"},
          "mark": {"type": "line", "interpolate": "cardinal-closed", "strokeWidth": 1.3, "fillOpacity": 0.12},
          "encoding": {
            "x": {"field": "x", "type": "quantitative", "title": "Dim1 (49.2%)", "scale": {"domain": [-2.85, 7.09], "nice": false, "zero": false},
                  "axis": {"values": [-2.5, -1.25, 0, 1.25, 2.5, 3.75, 5, 6.25], "labelExpr": "abs(datum.value % 2.5) < 0.001 ? format(datum.value, '.1f') : ''", "tickOpacity": {"condition": {"test": "abs(datum.value % 2.5) < 0.001", "value": 1}, "value": 0}, "gridWidth": {"condition": {"test": "abs(datum.value % 2.5) < 0.001", "value": 1.1}, "value": 0.6}, "titlePadding": 5}},
            "y": {"field": "y", "type": "quantitative", "title": "Dim2 (22.8%)", "scale": {"domain": [-3.58, 2.67], "nice": false, "zero": false},
                  "axis": {"values": [-3, -2, -1, 0, 1, 2], "labelExpr": "datum.value % 2 === 0 ? format(datum.value, 'd') : ''", "tickOpacity": {"condition": {"test": "datum.value % 2 === 0", "value": 1}, "value": 0}, "gridWidth": {"condition": {"test": "datum.value % 2 === 0", "value": 1.1}, "value": 0.6}, "titlePadding": 19}},
            "order": {"field": "k", "type": "quantitative"},
            "color": {"field": "g", "type": "nominal", "title": "River network", "scale": {"domain": ["Golfito", "PB", "Rincon", "RV", "SE", "Uvita"], "range": ["#C9B400", "#0000C8", "#FF9F2A", "#006400", "#CC0000", "#0E7F96"]}, "legend": {"orient": "none", "legendX": 786, "legendY": 38}},
            "fill": {"field": "g", "type": "nominal", "title": "River network", "scale": {"domain": ["Golfito", "PB", "Rincon", "RV", "SE", "Uvita"], "range": ["#C9B400", "#0000C8", "#FF9F2A", "#006400", "#CC0000", "#0E7F96"]}, "legend": {"orient": "none", "legendX": 786, "legendY": 38}}
          }
        },
        {
          "mark": {"type": "rule", "strokeDash": [6, 4], "color": "#000000", "strokeWidth": 1.2},
          "encoding": {"x": {"datum": 0, "type": "quantitative", "title": "Dim1 (49.2%)", "scale": {"domain": [-2.85, 7.09], "nice": false, "zero": false}}}
        },
        {
          "mark": {"type": "rule", "strokeDash": [6, 4], "color": "#000000", "strokeWidth": 1.2},
          "encoding": {"y": {"datum": 0, "type": "quantitative", "title": "Dim2 (22.8%)", "scale": {"domain": [-3.58, 2.67], "nice": false, "zero": false}}}
        },
        {
          "data": {"name": "pts_b"},
          "mark": {"type": "point", "filled": false, "size": 60, "strokeWidth": 1.1, "opacity": 1, "fillOpacity": 1},
          "encoding": {
            "x": {"field": "x", "type": "quantitative", "title": "Dim1 (49.2%)", "scale": {"domain": [-2.85, 7.09], "nice": false, "zero": false}},
            "y": {"field": "y", "type": "quantitative", "title": "Dim2 (22.8%)", "scale": {"domain": [-3.58, 2.67], "nice": false, "zero": false}},
            "color": {"field": "g", "type": "nominal", "title": "River network", "scale": {"domain": ["Golfito", "PB", "Rincon", "RV", "SE", "Uvita"], "range": ["#C9B400", "#0000C8", "#FF9F2A", "#006400", "#CC0000", "#0E7F96"]}, "legend": {"orient": "none", "legendX": 786, "legendY": 38}},
            "fill": {"field": "g", "type": "nominal", "title": "River network", "scale": {"domain": ["Golfito", "PB", "Rincon", "RV", "SE", "Uvita"], "range": ["#C9B400", "#0000C8", "#FF9F2A", "#006400", "#CC0000", "#0E7F96"]}, "legend": {"orient": "none", "legendX": 786, "legendY": 38}},
            "shape": {"field": "g", "type": "nominal", "title": "River network", "scale": {"domain": ["Golfito", "PB", "Rincon", "RV", "SE", "Uvita"], "range": ["circle", "triangle-up", "square", "M-1,0L1,0M0,-1L0,1", "M-1,-1L1,-1L1,1L-1,1ZM-0.82,-0.82L-0.82,0.82L0.82,0.82L0.82,-0.82ZM-0.82,-0.82L0.82,0.82M-0.82,0.82L0.82,-0.82", "M-1,0L1,0M0,-1L0,1M-0.72,-0.72L0.72,0.72M-0.72,0.72L0.72,-0.72"]}, "legend": {"orient": "none", "legendX": 786, "legendY": 38}}
          }
        },
        {
          "data": {"name": "mean_b"},
          "mark": {"type": "point", "filled": false, "size": 280, "strokeWidth": 1.3, "opacity": 1, "fillOpacity": 1},
          "encoding": {
            "x": {"field": "x", "type": "quantitative", "title": "Dim1 (49.2%)", "scale": {"domain": [-2.85, 7.09], "nice": false, "zero": false}},
            "y": {"field": "y", "type": "quantitative", "title": "Dim2 (22.8%)", "scale": {"domain": [-3.58, 2.67], "nice": false, "zero": false}},
            "color": {"field": "g", "type": "nominal", "title": "River network", "scale": {"domain": ["Golfito", "PB", "Rincon", "RV", "SE", "Uvita"], "range": ["#C9B400", "#0000C8", "#FF9F2A", "#006400", "#CC0000", "#0E7F96"]}, "legend": {"orient": "none", "legendX": 786, "legendY": 38}},
            "fill": {"field": "g", "type": "nominal", "title": "River network", "scale": {"domain": ["Golfito", "PB", "Rincon", "RV", "SE", "Uvita"], "range": ["#C9B400", "#0000C8", "#FF9F2A", "#006400", "#CC0000", "#0E7F96"]}, "legend": {"orient": "none", "legendX": 786, "legendY": 38}},
            "shape": {"field": "g", "type": "nominal", "title": "River network", "scale": {"domain": ["Golfito", "PB", "Rincon", "RV", "SE", "Uvita"], "range": ["circle", "triangle-up", "square", "M-1,0L1,0M0,-1L0,1", "M-1,-1L1,-1L1,1L-1,1ZM-0.82,-0.82L-0.82,0.82L0.82,0.82L0.82,-0.82ZM-0.82,-0.82L0.82,0.82M-0.82,0.82L0.82,-0.82", "M-1,0L1,0M0,-1L0,1M-0.72,-0.72L0.72,0.72M-0.72,0.72L0.72,-0.72"]}, "legend": {"orient": "none", "legendX": 786, "legendY": 38}}
          }
        },
        {
          "data": {"name": "arr_b"},
          "mark": {"type": "rule", "color": "#000000", "strokeWidth": 1.2},
          "encoding": {
            "x": {"field": "x", "type": "quantitative", "title": "Dim1 (49.2%)", "scale": {"domain": [-2.85, 7.09], "nice": false, "zero": false}},
            "y": {"field": "y", "type": "quantitative", "title": "Dim2 (22.8%)", "scale": {"domain": [-3.58, 2.67], "nice": false, "zero": false}},
            "x2": {"datum": 0},
            "y2": {"datum": 0}
          }
        },
        {
          "data": {"name": "seg_b"},
          "mark": {"type": "rule", "color": "#333333", "strokeWidth": 0.7},
          "encoding": {
            "x": {"field": "x", "type": "quantitative", "title": "Dim1 (49.2%)", "scale": {"domain": [-2.85, 7.09], "nice": false, "zero": false}},
            "y": {"field": "y", "type": "quantitative", "title": "Dim2 (22.8%)", "scale": {"domain": [-3.58, 2.67], "nice": false, "zero": false}},
            "x2": {"field": "x2"},
            "y2": {"field": "y2"}
          }
        },
        {
          "data": {"name": "arr_b"},
          "mark": {"type": "point", "shape": "M-1,-0.55L0,0L-1,0.55", "filled": false, "stroke": "#000000", "strokeWidth": 1.2, "size": 330, "opacity": 1, "angle": {"expr": "atan2(-datum.y*44.0, datum.x*76.36)*180/PI"}},
          "encoding": {
            "x": {"field": "x", "type": "quantitative", "title": "Dim1 (49.2%)", "scale": {"domain": [-2.85, 7.09], "nice": false, "zero": false}},
            "y": {"field": "y", "type": "quantitative", "title": "Dim2 (22.8%)", "scale": {"domain": [-3.58, 2.67], "nice": false, "zero": false}}
          }
        },
        {
          "data": {"name": "arr_b"},
          "mark": {"type": "text", "fontSize": 18, "font": "Liberation Sans", "color": "#000000", "align": "center", "baseline": "middle"},
          "encoding": {
            "x": {"field": "lx", "type": "quantitative", "title": "Dim1 (49.2%)", "scale": {"domain": [-2.85, 7.09], "nice": false, "zero": false}},
            "y": {"field": "ly", "type": "quantitative", "title": "Dim2 (22.8%)", "scale": {"domain": [-3.58, 2.67], "nice": false, "zero": false}},
            "text": {"field": "v", "type": "nominal"}
          }
        }
      ]
    }
  ]
}
